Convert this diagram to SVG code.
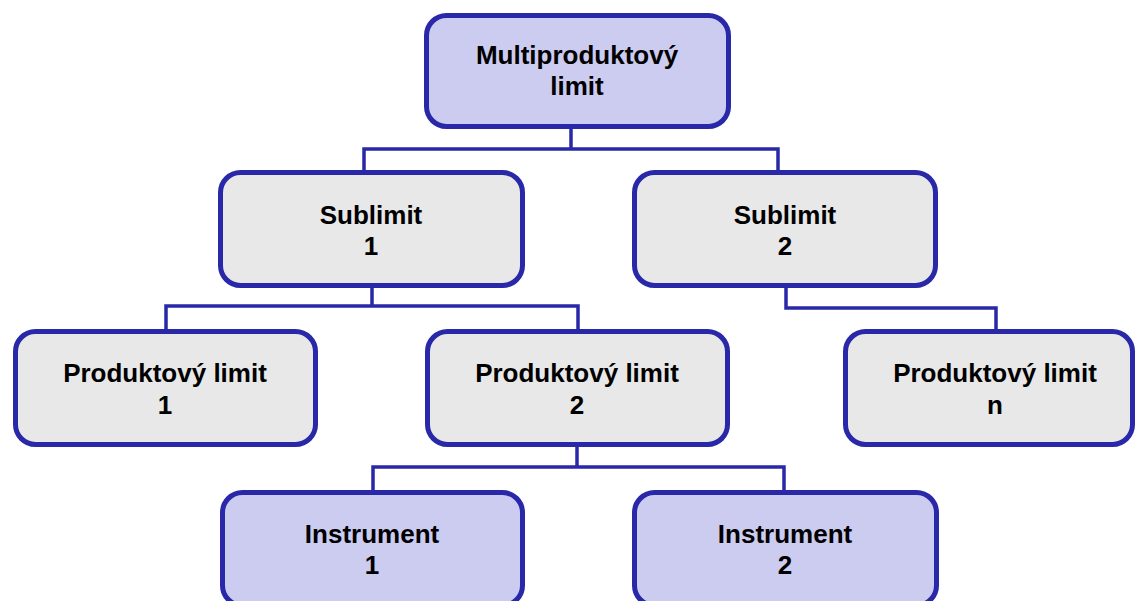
<svg xmlns="http://www.w3.org/2000/svg" width="1136" height="601" viewBox="0 0 1136 601">
<style>
.box{stroke:#2828A8;stroke-width:5}
.blue{fill:#CCCCF0}
.grey{fill:#E8E8E8}
.t{font-family:"Liberation Sans",Arial,sans-serif;font-weight:bold;font-size:26px;fill:#000;text-anchor:middle}
.c{fill:none;stroke:#2828A8;stroke-width:3.5}
</style>
<rect width="1136" height="601" fill="#FFFFFF"/>
<g id="connectors">
<path class="c" d="M571,129 V149 M364,170 V149 H778 V170"/>
<path class="c" d="M372,288 V306 M166,329 V306 H578 V329"/>
<path class="c" d="M786,288 V308 H996 V329"/>
<path class="c" d="M577,447 V467 M373,490 V467 H784 V490"/>
</g>
<g id="n-multi">
<rect class="box blue" x="426.5" y="15.5" width="302" height="111" rx="20"/>
<text class="t" x="577" y="64">Multiproduktový</text>
<text class="t" x="577" y="95">limit</text>
</g>
<g id="n-sub1">
<rect class="box grey" x="220.5" y="172.5" width="302" height="113" rx="20"/>
<text class="t" x="371" y="224">Sublimit</text>
<text class="t" x="371" y="255">1</text>
</g>
<g id="n-sub2">
<rect class="box grey" x="634.5" y="172.5" width="301" height="113" rx="20"/>
<text class="t" x="785" y="224">Sublimit</text>
<text class="t" x="785" y="255">2</text>
</g>
<g id="n-pl1">
<rect class="box grey" x="15.5" y="331.5" width="300" height="113" rx="20"/>
<text class="t" x="165" y="382">Produktový limit</text>
<text class="t" x="165" y="414">1</text>
</g>
<g id="n-pl2">
<rect class="box grey" x="427.5" y="331.5" width="300" height="113" rx="20"/>
<text class="t" x="577" y="382">Produktový limit</text>
<text class="t" x="577" y="414">2</text>
</g>
<g id="n-pln">
<rect class="box grey" x="845.5" y="331.5" width="287" height="113" rx="20"/>
<text class="t" x="995" y="382">Produktový limit</text>
<text class="t" x="995" y="414">n</text>
</g>
<g id="n-i1">
<rect class="box blue" x="222.5" y="492.5" width="300" height="113" rx="20"/>
<text class="t" x="372" y="543">Instrument</text>
<text class="t" x="372" y="574">1</text>
</g>
<g id="n-i2">
<rect class="box blue" x="634.5" y="492.5" width="302" height="113" rx="20"/>
<text class="t" x="785" y="543">Instrument</text>
<text class="t" x="785" y="574">2</text>
</g>
</svg>
